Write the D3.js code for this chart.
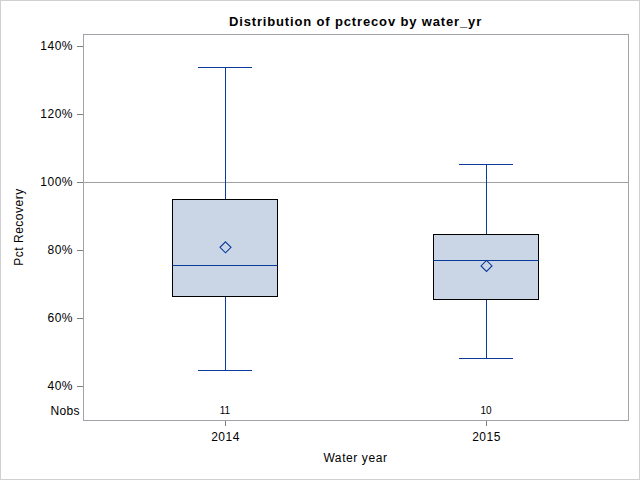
<!DOCTYPE html>
<html><head><meta charset="utf-8">
<script src="https://cdn.jsdelivr.net/npm/d3@7"></script>
<style>body{margin:0;background:#fff}svg{display:block}text{font-family:"Liberation Sans",Arial,sans-serif}</style>
</head><body>
<svg id="c" width="640" height="480"></svg>
<script>
const categories = ["2014", "2015"];
const whiskerLow = [44.6, 48.1];
const q1 = [66.4, 65.5];
const median = [75.6, 77.1];
const q3 = [94.9, 84.6];
const whiskerHigh = [133.8, 105.3];
const means = [80.8, 75.3];
const nobs = [11, 10];
const yTicks = [40, 60, 80, 100, 120, 140];
const refLine = 100;

const svg = d3.select("#c");
svg.append("rect").attr("x",0.5).attr("y",0.5).attr("width",639).attr("height",479)
  .attr("fill","#fff").attr("stroke","#d0d0d0");

const L = 83, R = 628, T = 34, B = 420;
const y = d3.scaleLinear().domain([40, 140]).range([386, 46]);
const x = d3.scalePoint().domain(categories).range([225, 486]);
const boxW = 105, capW = 54;
const blue = "#0a3a9a";

svg.append("text").attr("x", (L+R)/2).attr("y", 25.5).attr("text-anchor","middle")
  .attr("font-size",13).attr("font-weight","bold").attr("letter-spacing",0.85).attr("fill","#000").text("Distribution of pctrecov by water_yr");

// y axis
const ya = svg.append("g").attr("transform",`translate(${L},0)`)
  .call(d3.axisLeft(y).tickValues(yTicks).tickSize(6).tickPadding(4).tickFormat(d=>d+"%"));
ya.select(".domain").remove();
ya.selectAll("line").attr("stroke","#808080");
ya.selectAll("text").attr("font-size",12).attr("letter-spacing",0.5).attr("fill","#000").attr("font-family","'Liberation Sans',Arial,sans-serif");

// x axis
const xa = svg.append("g").attr("transform",`translate(0,${B})`)
  .call(d3.axisBottom(x).tickSize(6).tickPadding(6));
xa.select(".domain").remove();
xa.selectAll("line").attr("stroke","#808080");
xa.selectAll("text").attr("font-size",12).attr("letter-spacing",0.5).attr("fill","#000").attr("font-family","'Liberation Sans',Arial,sans-serif");

svg.append("text").attr("x",(L+R)/2).attr("y",462).attr("text-anchor","middle")
  .attr("font-size",12).attr("letter-spacing",0.6).attr("fill","#000").text("Water year");
svg.append("text").attr("transform",`translate(23,${(T+B)/2}) rotate(-90)`).attr("text-anchor","middle")
  .attr("font-size",12).attr("letter-spacing",0.5).attr("fill","#000").text("Pct Recovery");

// ref line
svg.append("line").attr("x1",L).attr("x2",R).attr("y1",y(refLine)+0.5).attr("y2",y(refLine)+0.5)
  .attr("stroke","#a0a0a0").attr("stroke-width",1);

const g = svg.selectAll("g.box").data(categories).enter().append("g").attr("class","box");
g.append("line").attr("x1",(d)=>x(d)+0.5).attr("x2",(d)=>x(d)+0.5)
  .attr("y1",(d,i)=>y(whiskerHigh[i])).attr("y2",(d,i)=>y(q3[i])).attr("stroke",blue);
g.append("line").attr("x1",(d)=>x(d)+0.5).attr("x2",(d)=>x(d)+0.5)
  .attr("y1",(d,i)=>y(q1[i])).attr("y2",(d,i)=>y(whiskerLow[i])).attr("stroke",blue);
g.append("line").attr("x1",(d)=>x(d)-capW/2).attr("x2",(d)=>x(d)+capW/2)
  .attr("y1",(d,i)=>Math.round(y(whiskerHigh[i]))+0.5).attr("y2",(d,i)=>Math.round(y(whiskerHigh[i]))+0.5).attr("stroke",blue);
g.append("line").attr("x1",(d)=>x(d)-capW/2).attr("x2",(d)=>x(d)+capW/2)
  .attr("y1",(d,i)=>Math.round(y(whiskerLow[i]))+0.5).attr("y2",(d,i)=>Math.round(y(whiskerLow[i]))+0.5).attr("stroke",blue);
g.append("rect").attr("x",(d)=>x(d)-boxW/2).attr("width",boxW)
  .attr("y",(d,i)=>Math.round(y(q3[i]))+0.5).attr("height",(d,i)=>Math.round(y(q1[i]))-Math.round(y(q3[i])))
  .attr("fill","#cad5e5").attr("stroke","#000").attr("stroke-width",1);
g.append("line").attr("x1",(d)=>x(d)-boxW/2).attr("x2",(d)=>x(d)+boxW/2)
  .attr("y1",(d,i)=>Math.round(y(median[i]))+0.5).attr("y2",(d,i)=>Math.round(y(median[i]))+0.5).attr("stroke",blue);
g.append("path").attr("transform",(d,i)=>`translate(${x(d)+0.5},${y(means[i])})`)
  .attr("d","M0,-5.5L5.5,0L0,5.5L-5.5,0Z").attr("fill","none").attr("stroke",blue).attr("stroke-width",1.1);

// nobs
svg.append("text").attr("x",80).attr("y",415).attr("text-anchor","end").attr("font-size",12).attr("letter-spacing",0.4).attr("fill","#000").text("Nobs");
g.append("text").attr("x",(d)=>x(d)).attr("y",414).attr("text-anchor","middle").attr("font-size",10).attr("fill","#000")
  .text((d,i)=>nobs[i]);

// frame
svg.append("rect").attr("x",L+0.5).attr("y",T+0.5).attr("width",R-L).attr("height",B-T)
  .attr("fill","none").attr("stroke","#a0a4a8");
</script>
</body></html>
